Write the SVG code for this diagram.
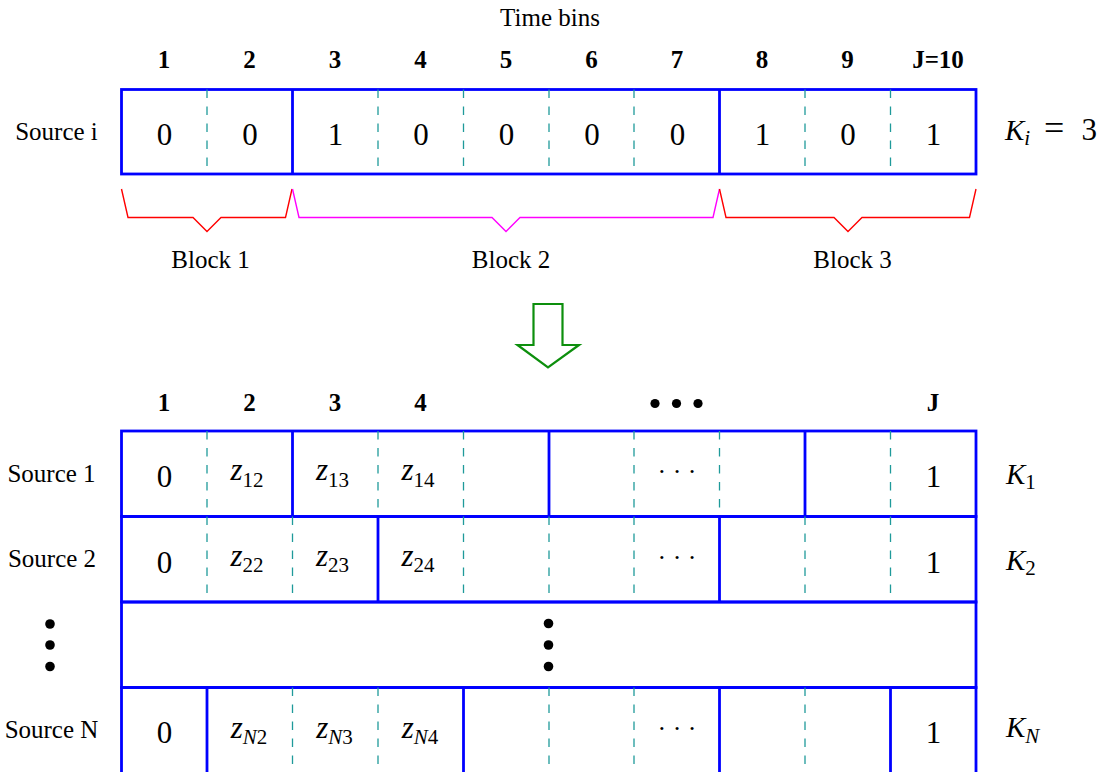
<svg xmlns="http://www.w3.org/2000/svg" width="1108" height="772" viewBox="0 0 1108 772">
  <style>
    .lbl { font-family: "Liberation Serif", "Times New Roman", serif; font-size: 25px; fill: #000; text-anchor: middle; }
    .hdr { font-family: "Liberation Serif", "Times New Roman", serif; font-size: 25px; font-weight: bold; fill: #000; text-anchor: middle; }
    .val { font-family: "Liberation Serif", "Times New Roman", serif; font-size: 31px; fill: #000; text-anchor: middle; }
    .mz  { font-family: "Liberation Serif", "Times New Roman", serif; font-size: 31px; font-style: italic; fill: #000; text-anchor: middle; }
    .sub { font-size: 21px; font-style: normal; }
    .subi { font-size: 21px; font-style: italic; }
    .dots { font-family: "Liberation Serif", "Times New Roman", serif; font-size: 26px; fill: #000; text-anchor: middle; }
    .k   { font-family: "Liberation Serif", "Times New Roman", serif; font-size: 29px; font-style: italic; fill: #000; }
    .rm  { font-style: normal; }
    .cell { fill: none; stroke: #0000ff; stroke-width: 2.8; }
    .sep  { stroke: #0000ff; stroke-width: 2.8; }
    .dash { stroke: #1f9a9a; stroke-width: 1.3; stroke-dasharray: 8.5 8.5; }
    .brace { fill: none; stroke-width: 1.4; stroke-linejoin: miter; }
    .bullet { fill: #000; }
  </style>

  <!-- time-bin axis -->
  <g id="time-bins">
    <text class="lbl" x="550" y="26">Time bins</text>
    <text class="hdr" x="164" y="68">1</text>
    <text class="hdr" x="249.5" y="68">2</text>
    <text class="hdr" x="335" y="68">3</text>
    <text class="hdr" x="420.5" y="68">4</text>
    <text class="hdr" x="506" y="68">5</text>
    <text class="hdr" x="591.5" y="68">6</text>
    <text class="hdr" x="677" y="68">7</text>
    <text class="hdr" x="762" y="68">8</text>
    <text class="hdr" x="847.5" y="68">9</text>
    <text class="hdr" x="938" y="68">J=10</text>
  </g>

  <!-- single source sequence -->
  <g id="source-i">
    <text class="lbl" x="56.5" y="140">Source i</text>
    <rect class="cell" x="121.5" y="89.5" width="854.5" height="84.5"/>
    <line class="sep" x1="292.5" y1="89.5" x2="292.5" y2="174"/>
    <line class="sep" x1="719.5" y1="89.5" x2="719.5" y2="174"/>
    <line class="dash" x1="207" y1="89.5" x2="207" y2="174"/>
    <line class="dash" x1="378" y1="89.5" x2="378" y2="174"/>
    <line class="dash" x1="463.5" y1="89.5" x2="463.5" y2="174"/>
    <line class="dash" x1="549" y1="89.5" x2="549" y2="174"/>
    <line class="dash" x1="634" y1="89.5" x2="634" y2="174"/>
    <line class="dash" x1="805" y1="89.5" x2="805" y2="174"/>
    <line class="dash" x1="890.5" y1="89.5" x2="890.5" y2="174"/>
    <text class="val" x="164.5" y="145">0</text>
    <text class="val" x="250" y="145">0</text>
    <text class="val" x="335.5" y="145">1</text>
    <text class="val" x="421" y="145">0</text>
    <text class="val" x="506.5" y="145">0</text>
    <text class="val" x="592" y="145">0</text>
    <text class="val" x="677.5" y="145">0</text>
    <text class="val" x="762.5" y="145">1</text>
    <text class="val" x="848" y="145">0</text>
    <text class="val" x="933.5" y="145">1</text>
    <text class="k" x="1005" y="140">K<tspan class="subi" dy="5">i</tspan><tspan class="rm" font-size="36" x="1044" dy="-5">=</tspan><tspan class="rm" font-size="31" x="1081.5">3</tspan></text>
  </g>

  <!-- blocks -->
  <g id="block-1">
    <polyline class="brace" stroke="#ff0000" points="121.5,189 128,217.5 193,217.5 207,231.5 221,217.5 285.5,217.5 292,189"/>
    <text class="lbl" x="210.5" y="268">Block 1</text>
  </g>
  <g id="block-2">
    <polyline class="brace" stroke="#ff00ff" points="292.5,189 299,217.5 492,217.5 506,231.5 520,217.5 713,217.5 719.5,189"/>
    <text class="lbl" x="511" y="268">Block 2</text>
  </g>
  <g id="block-3">
    <polyline class="brace" stroke="#ff0000" points="719.5,189 726,217.5 834,217.5 848,231.5 862,217.5 969.5,217.5 976,189"/>
    <text class="lbl" x="852.5" y="268">Block 3</text>
  </g>

  <g id="connectors">
    <polygon points="533.5,304 562.5,304 562.5,345 579,345 548,367.5 517.5,345 533.5,345" fill="#ffffff" stroke="#0d8f0d" stroke-width="2.2" stroke-linejoin="miter"/>
  </g>

  <!-- bin axis of the full table -->
  <g id="bin-axis">
    <text class="hdr" x="164" y="411">1</text>
    <text class="hdr" x="249.5" y="411">2</text>
    <text class="hdr" x="335" y="411">3</text>
    <text class="hdr" x="420.5" y="411">4</text>
    <circle class="bullet" cx="655" cy="403.5" r="4.6"/>
    <circle class="bullet" cx="676.5" cy="403.5" r="4.6"/>
    <circle class="bullet" cx="698" cy="403.5" r="4.6"/>
    <text class="hdr" x="933" y="411">J</text>
  </g>

  <g id="source-1">
    <text class="lbl" x="51.5" y="481.5">Source 1</text>
    <rect class="cell" x="121.5" y="431" width="854.5" height="85.5"/>
    <line class="sep" x1="292.5" y1="431" x2="292.5" y2="516.5"/>
    <line class="sep" x1="549" y1="431" x2="549" y2="516.5"/>
    <line class="sep" x1="805" y1="431" x2="805" y2="516.5"/>
    <line class="dash" x1="207" y1="431" x2="207" y2="516.5"/>
    <line class="dash" x1="378" y1="431" x2="378" y2="516.5"/>
    <line class="dash" x1="463.5" y1="431" x2="463.5" y2="516.5"/>
    <line class="dash" x1="634" y1="431" x2="634" y2="516.5"/>
    <line class="dash" x1="719.5" y1="431" x2="719.5" y2="516.5"/>
    <line class="dash" x1="890.5" y1="431" x2="890.5" y2="516.5"/>
    <text class="val" x="164.5" y="487">0</text>
    <text class="mz" x="247" y="480">z<tspan class="sub" dy="6.5">12</tspan></text>
    <text class="mz" x="332.5" y="480">z<tspan class="sub" dy="6.5">13</tspan></text>
    <text class="mz" x="418" y="480">z<tspan class="sub" dy="6.5">14</tspan></text>
    <text class="dots" x="677" y="480">· · ·</text>
    <text class="val" x="933.5" y="487">1</text>
    <text class="k" x="1006" y="484">K<tspan class="sub" dy="5">1</tspan></text>
  </g>

  <g id="source-2">
    <text class="lbl" x="52" y="566.5">Source 2</text>
    <rect class="cell" x="121.5" y="516.5" width="854.5" height="85.5"/>
    <line class="sep" x1="378" y1="516.5" x2="378" y2="602"/>
    <line class="sep" x1="719.5" y1="516.5" x2="719.5" y2="602"/>
    <line class="dash" x1="207" y1="516.5" x2="207" y2="602"/>
    <line class="dash" x1="292.5" y1="516.5" x2="292.5" y2="602"/>
    <line class="dash" x1="463.5" y1="516.5" x2="463.5" y2="602"/>
    <line class="dash" x1="549" y1="516.5" x2="549" y2="602"/>
    <line class="dash" x1="634" y1="516.5" x2="634" y2="602"/>
    <line class="dash" x1="805" y1="516.5" x2="805" y2="602"/>
    <line class="dash" x1="890.5" y1="516.5" x2="890.5" y2="602"/>
    <text class="val" x="164.5" y="572.5">0</text>
    <text class="mz" x="247" y="565.5">z<tspan class="sub" dy="6.5">22</tspan></text>
    <text class="mz" x="332.5" y="565.5">z<tspan class="sub" dy="6.5">23</tspan></text>
    <text class="mz" x="418" y="565.5">z<tspan class="sub" dy="6.5">24</tspan></text>
    <text class="dots" x="677" y="565.5">· · ·</text>
    <text class="val" x="933.5" y="572.5">1</text>
    <text class="k" x="1006" y="569.5">K<tspan class="sub" dy="5">2</tspan></text>
  </g>

  <g id="more-sources">
    <circle class="bullet" cx="50" cy="624" r="4.8"/>
    <circle class="bullet" cx="50" cy="645" r="4.8"/>
    <circle class="bullet" cx="50" cy="666.5" r="4.8"/>
    <rect class="cell" x="121.5" y="602" width="854.5" height="85.5"/>
    <circle class="bullet" cx="548.5" cy="623.5" r="4.8"/>
    <circle class="bullet" cx="548.5" cy="645" r="4.8"/>
    <circle class="bullet" cx="548.5" cy="666.5" r="4.8"/>
  </g>

  <g id="source-n">
    <text class="lbl" x="51.5" y="738">Source N</text>
    <rect class="cell" x="121.5" y="687.5" width="854.5" height="100"/>
    <line class="sep" x1="207" y1="687.5" x2="207" y2="780"/>
    <line class="sep" x1="463.5" y1="687.5" x2="463.5" y2="780"/>
    <line class="sep" x1="719.5" y1="687.5" x2="719.5" y2="780"/>
    <line class="sep" x1="890.5" y1="687.5" x2="890.5" y2="780"/>
    <line class="dash" x1="292.5" y1="687.5" x2="292.5" y2="780"/>
    <line class="dash" x1="378" y1="687.5" x2="378" y2="780"/>
    <line class="dash" x1="549" y1="687.5" x2="549" y2="780"/>
    <line class="dash" x1="634" y1="687.5" x2="634" y2="780"/>
    <line class="dash" x1="805" y1="687.5" x2="805" y2="780"/>
    <text class="val" x="164.5" y="743">0</text>
    <text class="mz" x="249" y="738">z<tspan class="subi" dy="5.5">N</tspan><tspan class="sub">2</tspan></text>
    <text class="mz" x="334.5" y="738">z<tspan class="subi" dy="5.5">N</tspan><tspan class="sub">3</tspan></text>
    <text class="mz" x="420" y="738">z<tspan class="subi" dy="5.5">N</tspan><tspan class="sub">4</tspan></text>
    <text class="dots" x="677" y="736.5">· · ·</text>
    <text class="val" x="933.5" y="743">1</text>
    <text class="k" x="1006" y="737">K<tspan class="subi" dy="6">N</tspan></text>
  </g>
</svg>
